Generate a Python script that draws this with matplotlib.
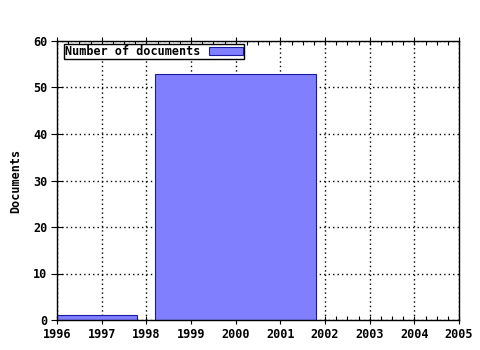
import matplotlib
matplotlib.use("Agg")
import matplotlib.pyplot as plt
from matplotlib.ticker import AutoMinorLocator

# Data
bin_edges = [1995, 1998, 2002]
doc_counts = [1, 53]
x_ticks = [1996, 1997, 1998, 1999, 2000, 2001, 2002, 2003, 2004, 2005]
y_ticks = [0, 10, 20, 30, 40, 50, 60]
series_label = "Number of documents"
y_label = "Documents"

plt.rcParams['font.family'] = ['DejaVu Sans Mono']
plt.rcParams['font.weight'] = 'bold'

fig = plt.figure(figsize=(4.8, 3.5), dpi=100)
ax = fig.add_axes([57/480, 1-320/350, (459-57)/480, (320-41)/350])

lefts = [bin_edges[i] + 0.2 for i in range(len(doc_counts))]
widths = [bin_edges[i+1] - bin_edges[i] - 0.4 for i in range(len(doc_counts))]
ax.bar(lefts, doc_counts, width=widths, align='edge', color='#8080ff',
       edgecolor='#1a1aa0', linewidth=0.8, label=series_label, zorder=2)

ax.set_xlim(x_ticks[0], x_ticks[-1])
ax.set_ylim(y_ticks[0], y_ticks[-1])
ax.set_xticks(x_ticks)
ax.set_yticks(y_ticks)
ax.xaxis.set_minor_locator(AutoMinorLocator(4))
ax.grid(True, which='major', color='black', linestyle=(0, (1, 2.2)), linewidth=1.0, zorder=1)
ax.set_axisbelow(True)

ax.tick_params(axis='x', which='major', direction='inout', length=6, width=0.8,
               top=True, labelsize=8.5, pad=3)
ax.tick_params(axis='x', which='minor', direction='in', length=3, width=0.8, top=True)
ax.tick_params(axis='y', which='major', direction='inout', length=8, width=0.8,
               labelsize=8.5, pad=3)
for lbl in ax.get_xticklabels() + ax.get_yticklabels():
    lbl.set_fontweight('bold')

for s in ax.spines.values():
    s.set_linewidth(1.0)
    s.set_color('black')

ax.set_ylabel(y_label, fontsize=8.5, fontweight='bold', labelpad=8)

leg = ax.legend(loc='upper left', bbox_to_anchor=(7/402, 1-3/279), markerfirst=False,
                fancybox=False, framealpha=1, edgecolor='black',
                borderpad=0.1, handlelength=2.9, handleheight=0.6,
                handletextpad=0.7, borderaxespad=0.0, prop={'weight': 'bold', 'size': 8.5})
leg.get_frame().set_linewidth(1.0)

fig.savefig("out.png", dpi=100)
